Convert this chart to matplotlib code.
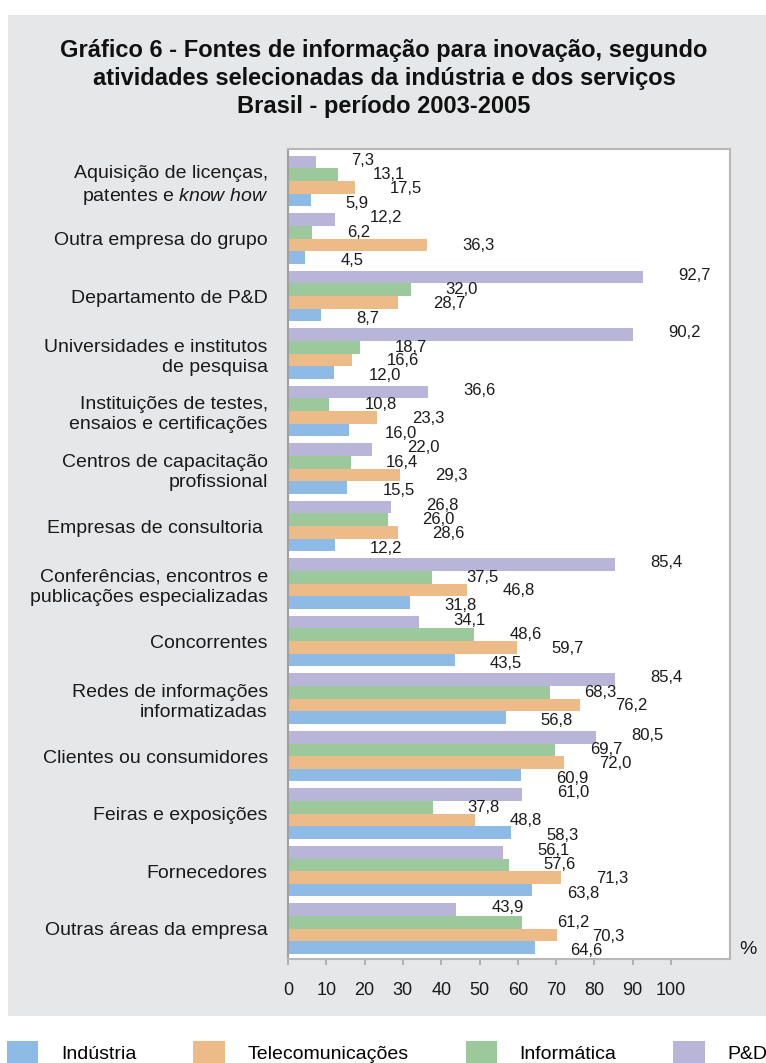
import matplotlib
matplotlib.use("Agg")
import matplotlib.pyplot as plt
from matplotlib.patches import Rectangle, Patch
import numpy as np

plt.rcParams['font.family'] = ['Liberation Sans', 'DejaVu Sans']
plt.rcParams['mathtext.fontset'] = 'custom'
plt.rcParams['mathtext.rm'] = 'Liberation Sans'
plt.rcParams['mathtext.it'] = 'Liberation Sans:italic'

# data
categorias = [
    "Aquisição de licenças,\npatentes e $\\mathit{know\\ how}$",
    "Outra empresa do grupo",
    "Departamento de P&D",
    "Universidades e institutos\nde pesquisa",
    "Instituições de testes,\nensaios e certificações",
    "Centros de capacitação\nprofissional",
    "Empresas de consultoria ",
    "Conferências, encontros e\npublicações especializadas",
    "Concorrentes",
    "Redes de informações\ninformatizadas",
    "Clientes ou consumidores",
    "Feiras e exposições",
    "Fornecedores",
    "Outras áreas da empresa",
]
industria = [5.9, 4.5, 8.7, 12.0, 16.0, 15.5, 12.2, 31.8, 43.5, 56.8, 60.9, 58.3, 63.8, 64.6]
telecom = [17.5, 36.3, 28.7, 16.6, 23.3, 29.3, 28.6, 46.8, 59.7, 76.2, 72.0, 48.8, 71.3, 70.3]
informatica = [13.1, 6.2, 32.0, 18.7, 10.8, 16.4, 26.0, 37.5, 48.6, 68.3, 69.7, 37.8, 57.6, 61.2]
ped = [7.3, 12.2, 92.7, 90.2, 36.6, 22.0, 26.8, 85.4, 34.1, 85.4, 80.5, 61.0, 56.1, 43.9]

series = ["Indústria", "Telecomunicações", "Informática", "P&D"]
valores = [industria, telecom, informatica, ped]
cores = ["#8ebbe6", "#ecbb87", "#9bc99c", "#b9b5d9"]

fig = plt.figure(figsize=(7.66, 10.63), dpi=100, facecolor="white")

# gray panel behind the chart
fig.patches.append(Rectangle((8 / 766, 1 - 1016 / 1063), 1, (1016 - 15) / 1063,
                             transform=fig.transFigure, facecolor="#e6e7e8",
                             edgecolor="none", zorder=-5))

ax = fig.add_axes([288 / 766, 1 - 959 / 1063, (730 - 288) / 766, (959 - 149) / 1063])
ax.set_zorder(2)
ax.set_facecolor("white")

y = np.arange(len(categorias))
h = 0.22
# within each group: P&D on top, then Informática, Telecom, Indústria
offsets = [1.5 * h, 0.5 * h, -0.5 * h, -1.5 * h]
label_dy = [3, 1, 0, -2]
for vals, cor, off, dy in zip(valores, cores, offsets, label_dy):
    ax.barh(y + off, vals, height=h, color=cor, edgecolor="none", zorder=2)
    for yi, v in zip(y, vals):
        ax.annotate(f"{v:.1f}".replace(".", ","), (v, yi + off),
                    xytext=(35, -dy), textcoords="offset pixels",
                    ha="left", va="center", fontsize=12, color="#1a1a1a")

ax.set_ylim(13.527, -0.557)
ax.set_xlim(0, 115.4)
ax.set_yticks(y)
ax.set_yticklabels(categorias, fontsize=14, linespacing=1.25, color="#1a1a1a")
ax.tick_params(axis="y", length=0, pad=14.5)
ax.set_xticks(np.arange(0, 101, 10))
ax.tick_params(axis="x", length=4.5, width=1.2, color="#a8a8a8", labelsize=13,
               pad=12, labelcolor="#1a1a1a", direction="out")

for s in ["top", "right", "bottom"]:
    ax.spines[s].set_color("#b8b8b8")
    ax.spines[s].set_linewidth(1.5)
ax.spines["left"].set_color("#a0a0a0")
ax.spines["left"].set_linewidth(1.5)

fig.text(748 / 766, 1 - 950 / 1063, "%", fontsize=14, ha="center", va="center",
         color="#1a1a1a")

# title
titulo = ["Gráfico 6 - Fontes de informação para inovação, segundo",
          "atividades selecionadas da indústria e dos serviços",
          "Brasil - período 2003-2005"]
for i, linha in enumerate(titulo):
    fig.text(384 / 766, 1 - (51 + 28 * i) / 1063, linha, ha="center", va="center",
             fontsize=17, fontweight="bold", color="#111111")

# legend at the bottom
handles = [Patch(facecolor=c, edgecolor="none") for c in cores]
fig.legend(handles, series, loc="center left", ncol=4,
           bbox_to_anchor=(7 / 766, 1 - 1053 / 1063), frameon=False,
           fontsize=14, borderpad=0, borderaxespad=0,
           handlelength=1.6, handleheight=1.45, handletextpad=1.18,
           columnspacing=2.93)

fig.savefig("out.png", dpi=100, facecolor="white")
